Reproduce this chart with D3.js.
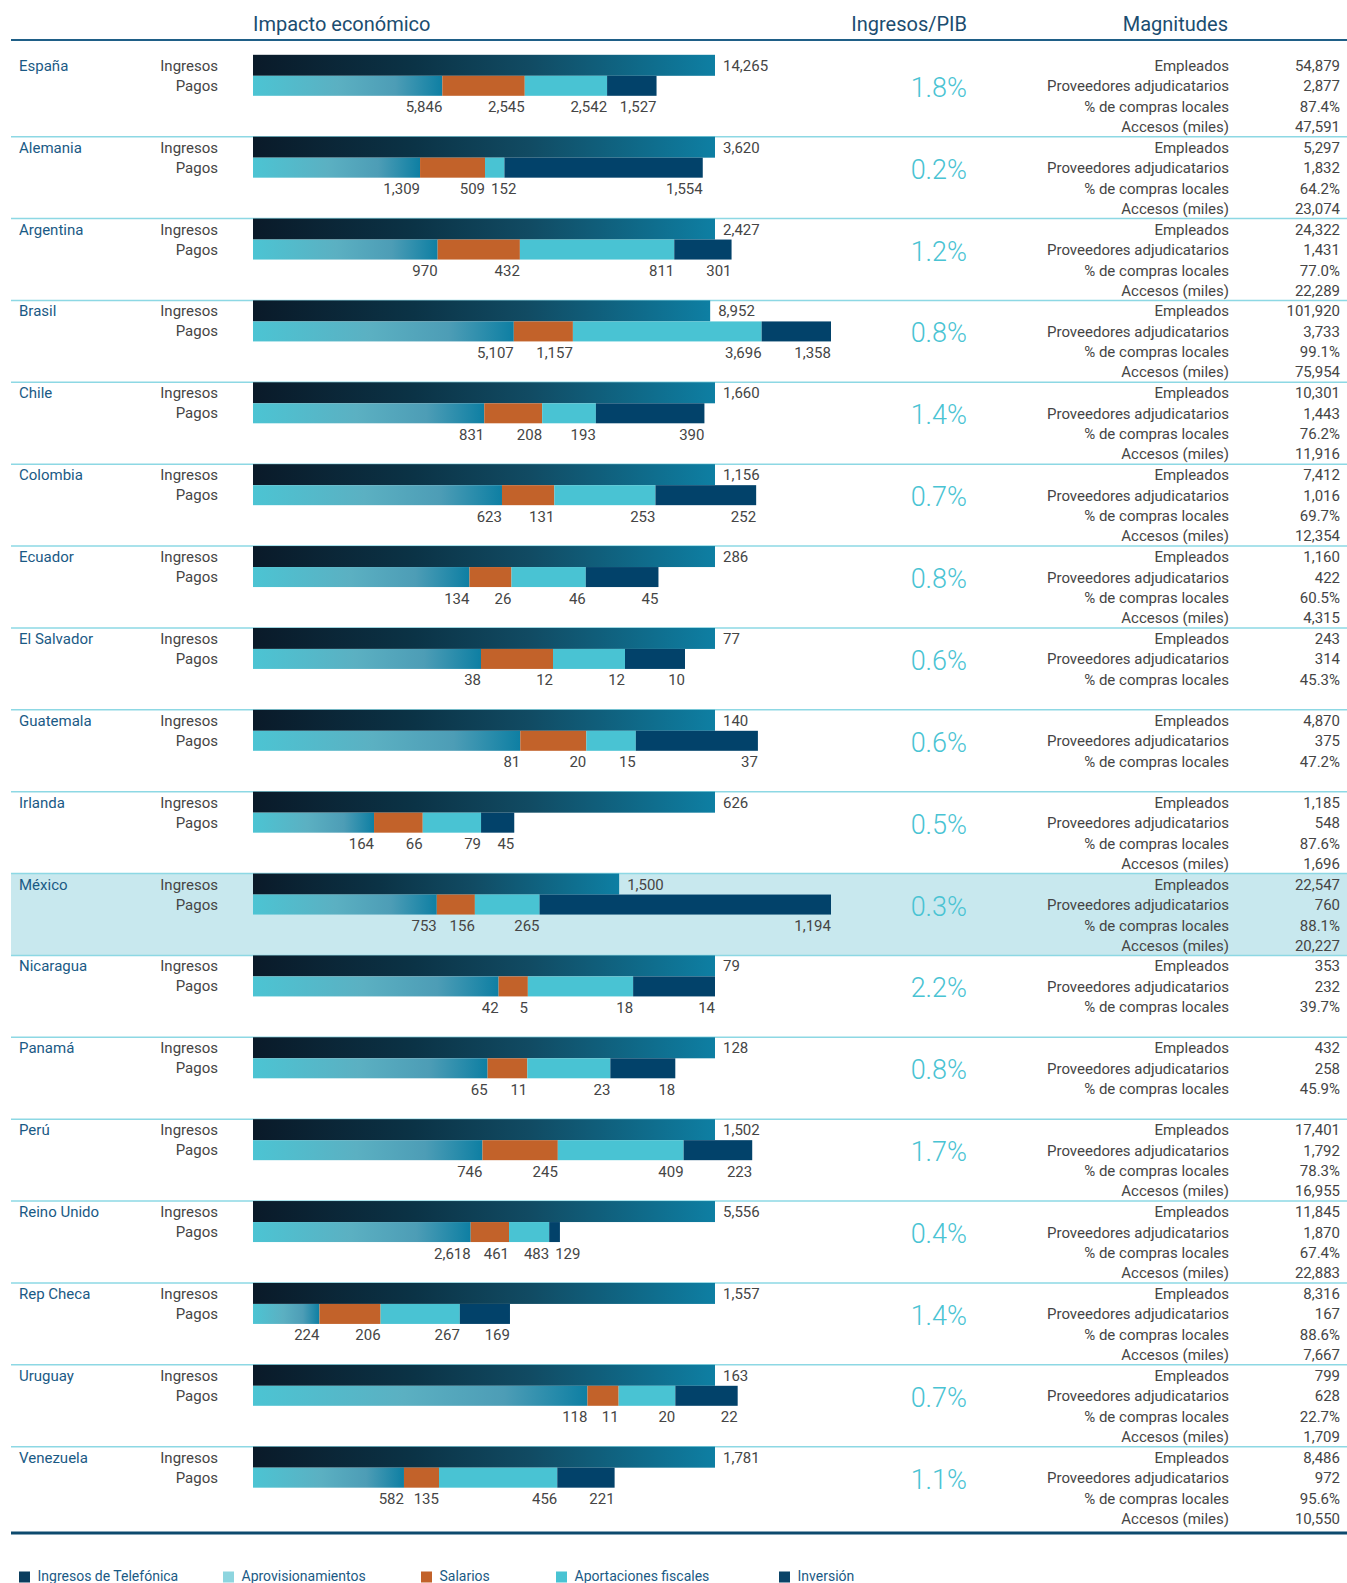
<!DOCTYPE html>
<html><head><meta charset="utf-8">
<script src="https://cdnjs.cloudflare.com/ajax/libs/d3/7.8.5/d3.min.js"></script>
<style>
html,body{margin:0;padding:0;background:#fff;}
svg{display:block;font-family:Roboto,"Noto Sans",sans-serif;}
</style></head>
<body><svg id="c" width="1347" height="1583"></svg>
<script>
const countries = ["España","Alemania","Argentina","Brasil","Chile","Colombia","Ecuador","El Salvador","Guatemala","Irlanda","México","Nicaragua","Panamá","Perú","Reino Unido","Rep Checa","Uruguay","Venezuela"];
const ingresos = [14265,3620,2427,8952,1660,1156,286,77,140,626,1500,79,128,1502,5556,1557,163,1781];
const aprovisionamientos = [5846,1309,970,5107,831,623,134,38,81,164,753,42,65,746,2618,224,118,582];
const salarios = [2545,509,432,1157,208,131,26,12,20,66,156,5,11,245,461,206,11,135];
const aportaciones = [2542,152,811,3696,193,253,46,12,15,79,265,18,23,409,483,267,20,456];
const inversion = [1527,1554,301,1358,390,252,45,10,37,45,1194,14,18,223,129,169,22,221];
const ingresosPIB = ["1.8%","0.2%","1.2%","0.8%","1.4%","0.7%","0.8%","0.6%","0.6%","0.5%","0.3%","2.2%","0.8%","1.7%","0.4%","1.4%","0.7%","1.1%"];
const magLabels = ["Empleados","Proveedores adjudicatarios","% de compras locales","Accesos (miles)"];
const empleados = ["54,879","5,297","24,322","101,920","10,301","7,412","1,160","243","4,870","1,185","22,547","353","432","17,401","11,845","8,316","799","8,486"];
const proveedores = ["2,877","1,832","1,431","3,733","1,443","1,016","422","314","375","548","760","232","258","1,792","1,870","167","628","972"];
const comprasLocales = ["87.4%","64.2%","77.0%","99.1%","76.2%","69.7%","60.5%","45.3%","47.2%","87.6%","88.1%","39.7%","45.9%","78.3%","67.4%","88.6%","22.7%","95.6%"];
const accesos = ["47,591","23,074","22,289","75,954","11,916","12,354","4,315",null,null,"1,696","20,227",null,null,"16,955","22,883","7,667","1,709","10,550"];
const highlighted = "México";
const legendLabels = ["Ingresos de Telefónica","Aprovisionamientos","Salarios","Aportaciones fiscales","Inversión"];
const headers = ["Impacto económico","Ingresos/PIB","Magnitudes"];

const svg = d3.select("#c");
const defs = svg.append("defs");
const g1 = defs.append("linearGradient").attr("id","gIng").attr("x1",0).attr("x2",1).attr("y1",0).attr("y2",0);
[[0,"#0a1a29"],[0.35,"#0b3346"],[0.6,"#114b63"],[1,"#0e7fa3"]].forEach(s=>g1.append("stop").attr("offset",s[0]).attr("stop-color",s[1]));
const g2 = defs.append("linearGradient").attr("id","gApr").attr("x1",0).attr("x2",1).attr("y1",0).attr("y2",0);
[[0,"#4cc4d3"],[0.45,"#5bb0c2"],[0.75,"#4d9db6"],[1,"#0e7fa3"]].forEach(s=>g2.append("stop").attr("offset",s[0]).attr("stop-color",s[1]));

const segColors = ["url(#gApr)","#c2622a","#49c3d3","#02426a"];
const legendColors = ["#0b3d5e","#8dd5df","#c2622a","#49c3d3","#0b4468"];

const X0 = 253, FULL = 462, CAP = 578;
const rowY = d3.scaleLinear().domain([0,1]).range([54.8, 54.8+81.875]);
const LEFT = 11, RIGHT = 1347;

svg.append("text").attr("x",X0).attr("y",31).attr("font-size",20).attr("fill","#1b4d70").text(headers[0]);
svg.append("text").attr("x",967).attr("y",31).attr("text-anchor","end").attr("font-size",20).attr("fill","#1b4d70").text(headers[1]);
svg.append("text").attr("x",1228).attr("y",31).attr("text-anchor","end").attr("font-size",20).attr("fill","#1b4d70").text(headers[2]);
svg.append("line").attr("x1",LEFT).attr("x2",RIGHT).attr("y1",40).attr("y2",40).attr("stroke","#1f5f87").attr("stroke-width",2);

const labelColor = "#454545";
const fmt = d3.format(",");

countries.forEach((name,i)=>{
  const t = rowY(i);
  const g = svg.append("g");
  if (name === highlighted) {
    g.append("rect").attr("x",LEFT).attr("y",t).attr("width",RIGHT-LEFT).attr("height",rowY(i+1)-t).attr("fill","#c8e8ee");
  }
  if (i>0) g.append("line").attr("x1",LEFT).attr("x2",RIGHT).attr("y1",t).attr("y2",t).attr("stroke","#8dd8e4").attr("stroke-width",1.5);

  const segs = [aprovisionamientos[i],salarios[i],aportaciones[i],inversion[i]];
  const total = d3.sum(segs);
  const dmax = Math.max(ingresos[i], total*FULL/CAP);
  const x = d3.scaleLinear().domain([0,dmax]).range([X0, X0+FULL]);

  g.append("text").attr("x",19).attr("y",t+11).attr("dominant-baseline","central").attr("font-size",15).attr("fill","#1a5a85").text(name);
  g.append("text").attr("x",218).attr("y",t+11).attr("dominant-baseline","central").attr("text-anchor","end").attr("font-size",15).attr("fill",labelColor).text("Ingresos");
  g.append("text").attr("x",218).attr("y",t+31).attr("dominant-baseline","central").attr("text-anchor","end").attr("font-size",15).attr("fill",labelColor).text("Pagos");

  g.append("rect").attr("x",x(0)).attr("y",t).attr("width",x(ingresos[i])-x(0)).attr("height",21).attr("fill","url(#gIng)");
  g.append("text").attr("x",x(ingresos[i])+8).attr("y",t+11).attr("dominant-baseline","central").attr("font-size",15).attr("fill",labelColor).text(fmt(ingresos[i]));

  const cum = d3.cumsum(segs);
  let prevRight = -Infinity;
  segs.forEach((v,k)=>{
    const a = k===0?0:cum[k-1], b = cum[k];
    g.append("rect").attr("x",x(a)).attr("y",t+21).attr("width",x(b)-x(a)).attr("height",20).attr("fill",segColors[k]);
    const txt = g.append("text").attr("x",x(b)).attr("y",t+52.5).attr("dominant-baseline","central").attr("text-anchor","end").attr("font-size",15).attr("fill",labelColor).text(fmt(v));
    const w = txt.node().getComputedTextLength();
    let right = x(b);
    if (right - w < prevRight + 6) { right = prevRight + 6 + w; txt.attr("x", right); }
    prevRight = right;
  });

  g.append("text").attr("x",967).attr("y",t+33).attr("dominant-baseline","central").attr("text-anchor","end").attr("font-size",27).attr("font-weight",300).attr("fill","#49c3d3").text(ingresosPIB[i]);

  const vals = [empleados[i],proveedores[i],comprasLocales[i],accesos[i]];
  const ys = [11,31.5,52,72];
  vals.forEach((v,k)=>{
    if (v===null) return;
    g.append("text").attr("x",1229).attr("y",t+ys[k]).attr("dominant-baseline","central").attr("text-anchor","end").attr("font-size",15).attr("fill",labelColor).text(magLabels[k]);
    g.append("text").attr("x",1340).attr("y",t+ys[k]).attr("dominant-baseline","central").attr("text-anchor","end").attr("font-size",15).attr("fill",labelColor).text(v);
  });
});

svg.append("line").attr("x1",LEFT).attr("x2",RIGHT).attr("y1",1533).attr("y2",1533).attr("stroke","#0d4a6e").attr("stroke-width",3);

const legX = [19,223,421,556,779];
legendLabels.forEach((l,k)=>{
  svg.append("rect").attr("x",legX[k]).attr("y",1571.5).attr("width",11).attr("height",11).attr("fill",legendColors[k]);
  svg.append("text").attr("x",legX[k]+18.5).attr("y",1576).attr("dominant-baseline","central").attr("font-size",14).attr("fill","#1a5a85").text(l);
});
</script></body></html>
